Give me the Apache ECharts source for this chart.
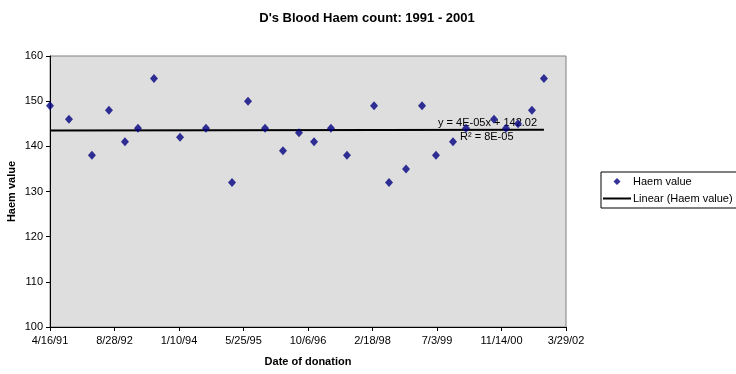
<!DOCTYPE html>
<html>
<head>
<meta charset="utf-8">
<script src="https://cdn.jsdelivr.net/npm/echarts@6/dist/echarts.min.js"></script>
<style>
html,body{margin:0;padding:0;background:#ffffff;}
#chart{width:736px;height:374px;}
</style>
</head>
<body>
<div id="chart"></div>
<script>
// Data
var donationDates = ['4/16/91','9/10/91','3/6/92','7/16/92','11/17/92','2/26/93','6/30/93',
  '1/18/94','8/7/94','2/25/95','6/29/95','11/8/95','3/26/96','7/28/96','11/22/96','4/2/97',
  '8/4/97','3/2/98','6/26/98','11/5/98','3/9/99','6/25/99','11/4/99','2/13/00','9/17/00',
  '12/19/00','3/22/01','7/8/01','10/9/01'];
var haemValues = [149,146,138,148,141,144,155,142,144,132,150,144,139,143,141,144,
  138,149,132,135,149,138,141,144,146,144,145,148,155];
var axisStartDate = '4/16/91';
var xTickStepDays = 500;
var xTickCount = 8;
var yTicks = [100,110,120,130,140,150,160];
var trendEquation = 'y = 4E-05x + 142.02';
var trendR2 = 'R² = 8E-05';

function parseMDY(s){
  var p = s.split('/');
  var y = +p[2]; y += (y < 50 ? 2000 : 1900);
  return Date.UTC(y, +p[0]-1, +p[1]);
}
var DAY = 86400000;
var base = parseMDY(axisStartDate);
function dayOffset(s){ return Math.round((parseMDY(s) - base)/DAY); }
function fmtDay(v){
  var d = new Date(base + v*DAY);
  return (d.getUTCMonth()+1) + '/' + d.getUTCDate() + '/' + String(d.getUTCFullYear()).slice(2);
}

var pts = donationDates.map(function(d,i){ return [dayOffset(d), haemValues[i]]; });
// least squares trend line
var n = pts.length, sx=0, sy=0, sxx=0, sxy=0;
pts.forEach(function(p){ sx+=p[0]; sy+=p[1]; sxx+=p[0]*p[0]; sxy+=p[0]*p[1]; });
var slope = (n*sxy - sx*sy)/(n*sxx - sx*sx);
var icpt = (sy - slope*sx)/n;
var x0 = pts[0][0], x1 = pts[n-1][0];
var trend = [[x0, icpt + slope*x0],[x1, icpt + slope*x1]];

var chart = echarts.init(document.getElementById('chart'));
var font = 'Arial, "Liberation Sans", sans-serif';
chart.setOption({
  animation: false,
  backgroundColor: '#ffffff',
  title: {
    text: "D's Blood Haem count: 1991 - 2001",
    left: 362, top: 7, textAlign: 'center',
    textStyle: {fontFamily: font, fontSize: 13, fontWeight: 'bold', color: '#000'}
  },
  grid: {
    left: 50, right: 170, top: 56, bottom: 47,
    containLabel: false, outerBoundsMode: 'none',
    show: true, backgroundColor: '#dedede', borderColor: '#808080', borderWidth: 1
  },
  xAxis: {
    type: 'value', min: 0, max: xTickStepDays*xTickCount, interval: xTickStepDays,
    name: 'Date of donation', nameLocation: 'middle', nameGap: 29, nameMoveOverlap: false,
    nameTextStyle: {fontFamily: font, fontSize: 11, fontWeight: 'bold', color: '#000'},
    axisLine: {show: true, onZero: false, lineStyle: {color: '#000', width: 1}},
    axisTick: {show: true, inside: false, length: 4, lineStyle: {color: '#000'}},
    axisLabel: {formatter: fmtDay, margin: 8, fontFamily: font, fontSize: 11, color: '#000'},
    splitLine: {show: false}
  },
  yAxis: {
    type: 'value', min: yTicks[0], max: yTicks[yTicks.length-1], interval: yTicks[1]-yTicks[0],
    name: 'Haem value', nameLocation: 'middle', nameGap: 33, nameRotate: 90, nameMoveOverlap: false,
    nameTextStyle: {fontFamily: font, fontSize: 11, fontWeight: 'bold', color: '#000'},
    axisLine: {show: true, lineStyle: {color: '#000', width: 1}},
    axisTick: {show: true, inside: false, length: 4, lineStyle: {color: '#000'}},
    axisLabel: {margin: 7, fontFamily: font, fontSize: 11, color: '#000'},
    splitLine: {show: false}
  },
  legend: {
    orient: 'vertical', left: 601, top: 172,
    backgroundColor: '#ffffff', borderColor: '#000', borderWidth: 1,
    padding: [4, 4, 4, 2], itemGap: 6, itemWidth: 28, itemHeight: 7,
    symbolKeepAspect: true,
    textStyle: {fontFamily: font, fontSize: 11, color: '#000', padding: [0,0,0,-3]},
    data: [
      {name: 'Haem value', icon: 'path://M5,0L10,5L5,10L0,5Z'},
      {name: 'Linear (Haem value)', icon: 'path://M0,0H28V2H0Z'}
    ]
  },
  graphic: [
    {type: 'text', left: 438, top: 117, silent: true,
     style: {text: trendEquation, font: '11px Arial, "Liberation Sans", sans-serif', fill: '#000'}},
    {type: 'text', left: 460, top: 131, silent: true,
     style: {text: trendR2, font: '11px Arial, "Liberation Sans", sans-serif', fill: '#000'}}
  ],
  series: [
    {
      name: 'Linear (Haem value)', type: 'line', data: trend,
      showSymbol: false, symbol: 'none', z: 2,
      lineStyle: {color: '#000', width: 2}, itemStyle: {color: '#000'}
    },
    {
      name: 'Haem value', type: 'scatter', data: pts,
      symbol: 'diamond', symbolSize: [8, 9], z: 3,
      itemStyle: {color: '#000080'}
    }
  ]
});
</script>
</body>
</html>
